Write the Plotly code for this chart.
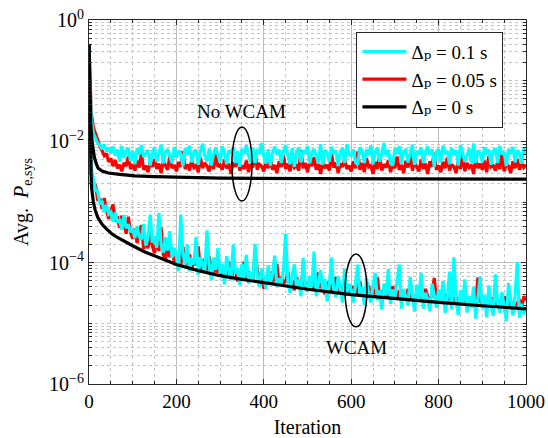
import numpy as np
import plotly.graph_objects as go

# ---------------- data ----------------
iters_noisy = list(range(0, 1001, 5))

# No WCAM, values in units of 1e-3
cyan_nowcam_milli = [
    390, 24, 13.5, 10.8, 9.2, 8.6, 7.4, 8.9, 6.8, 7.9, 6.3, 8.2, 5.8, 7.3, 4.6, 8.4, 5.3, 7.0, 7.8, 4.7,
    6.9, 4.2, 7.6, 6.1, 8.7, 5.5, 6.4, 7.2, 4.0, 6.8, 7.9, 4.6, 6.2, 8.8, 4.3, 6.7, 7.4, 5.9, 4.4, 8.1,
    5.4, 7.0, 6.3, 3.9, 7.7, 6.0, 8.5, 4.5, 6.6, 7.3, 4.1, 6.9, 9.1, 5.8, 4.6, 7.6, 4.0, 6.2, 7.9, 6.1,
    4.5, 8.3, 6.7, 4.2, 7.1, 6.4, 8.0, 4.4, 6.9, 3.8, 7.5, 6.2, 8.6, 5.9, 4.3, 7.8, 4.4, 7.0, 6.6, 9.3,
    5.7, 4.3, 7.4, 4.0, 6.5, 8.2, 6.0, 7.3, 4.4, 6.9, 8.7, 5.8, 4.2, 7.7, 3.8, 6.6, 7.9, 4.5, 7.1, 6.3,
    8.4, 4.3, 6.7, 7.5, 5.9, 4.4, 9.0, 4.1, 7.2, 6.5, 4.6, 8.1, 6.4, 7.0, 3.9, 6.8, 7.6, 4.4, 8.9, 6.2,
    5.8, 7.3, 4.5, 4.1, 8.0, 6.9, 4.4, 7.4, 6.0, 8.6, 4.2, 6.7, 7.8, 4.6, 6.3, 9.4, 5.7, 7.1, 4.4, 4.0,
    7.7, 6.2, 8.3, 4.3, 6.8, 7.2, 4.5, 6.5, 8.8, 4.1, 7.0, 6.1, 7.9, 4.4, 6.6, 8.2, 5.9, 7.4, 3.8, 6.7,
    7.5, 4.5, 8.5, 6.3, 6.9, 4.2, 7.8, 6.0, 7.2, 4.0, 8.7, 6.4, 4.6, 5.8, 7.6, 4.3, 9.2, 4.4, 7.0, 6.5,
    4.5, 8.0, 6.6, 7.3, 4.1, 6.9, 7.7, 4.4, 8.4, 6.1, 6.7, 3.9, 7.5, 6.3, 8.1, 4.5, 7.1, 6.4, 4.3, 7.9,
    6.2,
]
red_nowcam_milli = [
    390, 30, 17, 13, 10, 8.2, 7.0, 5.8, 6.3, 4.6, 5.2, 3.9, 4.9, 3.6, 4.1, 3.2, 4.4, 3.9, 5.6, 3.5,
    4.2, 3.3, 4.8, 3.7, 6.3, 3.4, 4.0, 3.1, 4.5, 3.8, 5.1, 3.5, 4.3, 3.0, 4.7, 3.9, 3.4, 5.8, 3.6, 4.1,
    3.2, 4.6, 3.8, 6.9, 3.5, 4.2, 3.3, 4.9, 3.7, 4.0, 3.1, 5.4, 3.6, 4.4, 3.9, 3.2, 4.7, 3.5, 6.1, 3.8,
    4.1, 3.4, 5.0, 3.6, 4.3, 2.9, 4.6, 3.8, 5.7, 3.3, 4.0, 3.5, 4.8, 3.1, 4.4, 3.7, 6.6, 3.4, 4.2, 3.9,
    3.2, 4.5, 3.6, 5.2, 3.4, 4.1, 3.0, 4.7, 3.8, 5.9, 3.5, 4.3, 3.2, 4.9, 3.7, 4.0, 3.3, 7.2, 3.6, 4.4,
    3.1, 4.6, 3.9, 5.5, 3.4, 4.2, 2.9, 4.8, 3.6, 4.1, 3.3, 6.4, 3.7, 4.5, 3.0, 4.3, 3.8, 5.1, 3.5, 4.0,
    3.2, 4.7, 3.6, 6.8, 3.4, 4.4, 3.1, 5.3, 3.8, 4.0, 2.9, 4.6, 3.5, 5.8, 3.3, 4.2, 3.7, 4.9, 3.1, 4.3,
    3.6, 5.6, 3.4, 4.1, 3.0, 4.8, 3.7, 6.2, 3.3, 4.5, 3.9, 3.2, 5.0, 3.5, 4.3, 2.9, 4.7, 3.8, 6.5, 3.4,
    4.0, 3.1, 4.6, 3.6, 5.4, 3.3, 4.2, 3.8, 3.0, 4.9, 3.5, 6.0, 3.2, 4.4, 3.7, 4.1, 2.9, 5.2, 3.6, 4.3,
    3.4, 4.8, 3.1, 5.7, 3.8, 4.0, 3.3, 4.6, 3.5, 6.3, 3.2, 4.2, 3.9, 3.0, 4.7, 3.6, 5.1, 3.4, 4.4, 3.7,
    4.1,
]

# WCAM, values in units of 1e-5
cyan_wcam_e5 = [
    39000, 360, 240, 158, 146, 96, 99, 68, 90, 63, 68, 47, 67, 48, 50, 35, 61, 37, 43, 32,
    36, 25.5, 40, 26.7, 24, 43, 19.2, 25.7, 62, 21.4, 27.3, 17.5, 66, 19.7, 14.7, 26.2, 15.9, 33, 12, 17.5,
    13.0, 7.3, 62, 13.9, 9.4, 19.9, 7.3, 11.9, 9.3, 26.6, 6.3, 12.3, 9.2, 7.0, 34, 9.3, 5.2, 12.2, 7.6, 17.4,
    6.7, 9.6, 4.4, 12.8, 7.5, 5.1, 20, 6.6, 8.1, 4.3, 9.5, 5.7, 13.4, 4.5, 7.0, 5.0, 20.4, 6.2, 4.0, 8.0,
    5.6, 3.7, 9.0, 4.5, 6.6, 13.1, 3.9, 5.5, 4.6, 7.5, 30, 4.9, 3.2, 6.3, 9.4, 3.9, 5.3, 2.8, 11.9, 4.4,
    3.3, 6.1, 3.9, 15.2, 2.8, 4.9, 7.6, 3.4, 5.4, 2.3, 4.3, 12.1, 3.6, 2.7, 6.0, 3.8, 2.2, 8.0, 3.0, 4.5,
    3.6, 2.2, 5.3, 9.3, 2.9, 4.0, 2.0, 5.6, 3.1, 2.2, 4.4, 6.8, 2.4, 3.5, 1.7, 4.5, 2.9, 7.8, 2.1, 3.6,
    2.6, 5.3, 9.3, 1.75, 3.7, 2.7, 1.96, 5.8, 2.9, 1.56, 4.3, 2.4, 6.8, 1.75, 3.2, 2.5, 1.6, 4.5, 2.9, 1.8,
    3.6, 2.2, 5.0, 1.5, 2.6, 7.1, 1.7, 12.3, 2.3, 1.36, 3.5, 2.1, 5.3, 1.5, 2.8, 1.8, 4.0, 1.2, 2.6, 5.9,
    1.76, 2.9, 1.25, 4.2, 2.1, 1.33, 6.4, 2.2, 1.5, 3.3, 1.84, 1.1, 4.6, 2.35, 1.35, 2.9, 10.1, 1.23, 2.1, 1.48,
    1.6,
]
red_wcam_e5 = [
    39000, 300, 200, 187, 106, 115, 77, 116, 72, 53, 71, 91, 48, 58, 37.5, 59, 43, 30, 57, 31.5,
    24.7, 36.4, 21, 28.4, 41.6, 16.9, 23.7, 17.2, 30.4, 18.8, 14.3, 23.8, 15.6, 38.3, 13.6, 10.9, 19.1, 12.4, 15, 10.7,
    11.2, 13.7, 8.9, 18.3, 11.1, 9.1, 13.8, 7.5, 10.9, 9.1, 18.5, 7.3, 11.4, 9.0, 7.5, 12.6, 7.8, 6.4, 9.5, 6.8,
    8.5, 6.0, 7.7, 6.4, 10.4, 5.7, 6.7, 8.3, 4.9, 7.0, 5.8, 10.4, 5.2, 7.1, 6.0, 5.0, 14.6, 7.7, 5.2, 6.1,
    3.7, 5.5, 4.5, 7.1, 4.8, 5.7, 9.5, 4.25, 5.9, 4.6, 4.9, 6.9, 4.0, 5.1, 3.5, 5.8, 4.2, 4.5, 7.1, 3.7,
    4.7, 4.0, 5.7, 3.5, 4.2, 6.9, 3.8, 4.8, 3.0, 4.3, 5.0, 3.3, 3.9, 5.8, 3.2, 4.1, 3.4, 4.6, 3.0, 3.6,
    3.3, 4.1, 2.9, 3.8, 4.9, 2.9, 3.4, 3.1, 4.2, 2.8, 3.6, 3.0, 5.7, 2.7, 3.2, 3.7, 2.6, 3.4, 2.85, 4.1,
    3.1, 2.5, 3.5, 2.75, 3.2, 2.5, 3.7, 2.7, 2.9, 2.4, 3.1, 2.6, 2.8, 2.3, 3.7, 2.8, 2.5, 2.95, 5.6, 2.5,
    2.7, 2.9, 2.2, 3.05, 2.4, 2.6, 3.2, 2.1, 2.7, 2.3, 2.5, 2.1, 2.9, 2.2, 2.6, 2.0, 2.4, 2.2, 5.7, 2.35,
    2.1, 2.5, 1.9, 2.3, 2.7, 2.1, 1.9, 2.4, 2.2, 1.85, 2.8, 2.0, 2.2, 1.8, 2.3, 1.95, 2.1, 2.5, 1.75, 2.8,
    2.4,
]

iters_black_nowcam = [0, 1, 2, 4, 7, 12, 16, 21, 30, 44, 70, 105, 150, 200, 300, 500, 700, 1000]
black_nowcam = [0.39, 0.15, 0.06, 0.02, 0.01, 5.6e-3, 4.4e-3, 3.6e-3, 3.25e-3, 3.0e-3, 2.85e-3,
                2.7e-3, 2.62e-3, 2.55e-3, 2.48e-3, 2.42e-3, 2.4e-3, 2.38e-3]

iters_black_wcam = [0, 1, 2, 3, 4, 5, 6, 8, 10, 14, 20, 25, 30, 40, 52, 65, 82, 100, 128, 160,
                    200, 250, 300, 350, 400, 450, 500, 600, 700, 800, 900, 1000]
black_wcam = [0.39, 0.1, 0.03, 0.01, 4.5e-3, 2.4e-3, 1.7e-3, 1.25e-3, 1.0e-3, 7.4e-4, 5.6e-4,
              4.9e-4, 4.3e-4, 3.6e-4, 3.0e-4, 2.6e-4, 2.2e-4, 1.9e-4, 1.5e-4, 1.2e-4,
              9.3e-5, 7.4e-5, 6.1e-5, 5.3e-5, 4.65e-5, 4.1e-5, 3.65e-5, 2.98e-5, 2.55e-5,
              2.22e-5, 1.95e-5, 1.73e-5]

legend_labels = ["Δₚ = 0.1 s", "Δₚ = 0.05 s", "Δₚ = 0 s"]
x_ticks = [0, 200, 400, 600, 800, 1000]
y_ticks = [1e-6, 1e-4, 1e-2, 1]
y_ticktext = ["10<sup>−6</sup>", "10<sup>−4</sup>", "10<sup>−2</sup>", "10<sup>0</sup>"]

cyan_nowcam = np.array(cyan_nowcam_milli) * 1e-3
red_nowcam = np.array(red_nowcam_milli) * 1e-3
cyan_wcam = np.array(cyan_wcam_e5) * 1e-5
red_wcam = np.array(red_wcam_e5) * 1e-5

# ---------------- figure ----------------
FONT = "Liberation Serif, DejaVu Serif, serif"
CYAN = "#00FFFF"
RED = "#FF0000"
BLACK = "#000000"

fig = go.Figure()

def add(x, y, color, width, name, show, rank):
    fig.add_trace(go.Scatter(
        x=x, y=y, mode="lines", line=dict(color=color, width=width),
        name=name, legendgroup=name, showlegend=show, legendrank=rank,
        hoverinfo="skip"))

add(iters_noisy, red_nowcam, RED, 3.2, legend_labels[1], True, 2)
add(iters_noisy, red_wcam, RED, 3.2, legend_labels[1], False, 2)
add(iters_noisy, cyan_nowcam, CYAN, 3.2, legend_labels[0], True, 1)
add(iters_noisy, cyan_wcam, CYAN, 3.2, legend_labels[0], False, 1)
add(iters_black_nowcam, black_nowcam, BLACK, 3.2, legend_labels[2], True, 3)
add(iters_black_wcam, black_wcam, BLACK, 3.2, legend_labels[2], False, 3)

grid_major = "#bdbdbd"
grid_minor = "#c4c4c4"

fig.update_layout(
    width=548, height=438,
    margin=dict(l=89, r=22, t=20, b=54),
    paper_bgcolor="white", plot_bgcolor="white",
    font=dict(family=FONT, size=19, color="black"),
    showlegend=True,
    legend=dict(
        x=0.612, y=0.968, xanchor="left", yanchor="top",
        bgcolor="white", bordercolor="#262626", borderwidth=1,
        font=dict(family=FONT, size=19, color="black"),
        tracegroupgap=0, itemwidth=44,
    ),
    xaxis=dict(
        range=[0, 1000], tickmode="array", tickvals=x_ticks,
        ticks="inside", ticklen=5, tickcolor="#262626",
        showline=True, linecolor="#262626", linewidth=1, mirror="allticks",
        showgrid=True, gridcolor=grid_major, gridwidth=1,
        zeroline=False, automargin=False,
        minor=dict(tickvals=list(range(50, 1000, 50)), ticks="inside", ticklen=3,
                   tickcolor="#262626", showgrid=True, gridcolor=grid_minor, griddash="dot"),
        title=dict(text="Iteration", font=dict(family=FONT, size=20)),
        tickfont=dict(family=FONT, size=19),
    ),
    yaxis=dict(
        type="log", range=[-6, 0], tickmode="array", tickvals=y_ticks, ticktext=y_ticktext,
        ticks="inside", ticklen=5, tickcolor="#262626",
        showline=True, linecolor="#262626", linewidth=1, mirror="allticks",
        showgrid=True, gridcolor=grid_major, gridwidth=1,
        zeroline=False, automargin=False,
        minor=dict(dtick="D1", ticks="inside", ticklen=3, tickcolor="#262626",
                   showgrid=True, gridcolor=grid_minor, griddash="dot"),
        title=dict(text="Avg.  <i>P</i><sub>e,sys</sub>", font=dict(family=FONT, size=20)),
        tickfont=dict(family=FONT, size=20),
    ),
)

# ellipses and labels
fig.add_shape(type="circle", xref="x", yref="y domain", x0=327, x1=373, y0=0.503, y1=0.706,
              line=dict(color="black", width=1.5))
fig.add_shape(type="circle", xref="x", yref="y domain", x0=586, x1=636, y0=0.157, y1=0.357,
              line=dict(color="black", width=1.5))
fig.add_annotation(x=350, y=0.75, xref="x", yref="y domain", text="No WCAM", showarrow=False,
                   xanchor="center", yanchor="middle",
                   font=dict(family=FONT, size=19, color="black"))
fig.add_annotation(x=611, y=0.10, xref="x", yref="y domain", text="WCAM", showarrow=False,
                   xanchor="center", yanchor="middle",
                   font=dict(family=FONT, size=19, color="black"))

fig.write_html("out.html")
